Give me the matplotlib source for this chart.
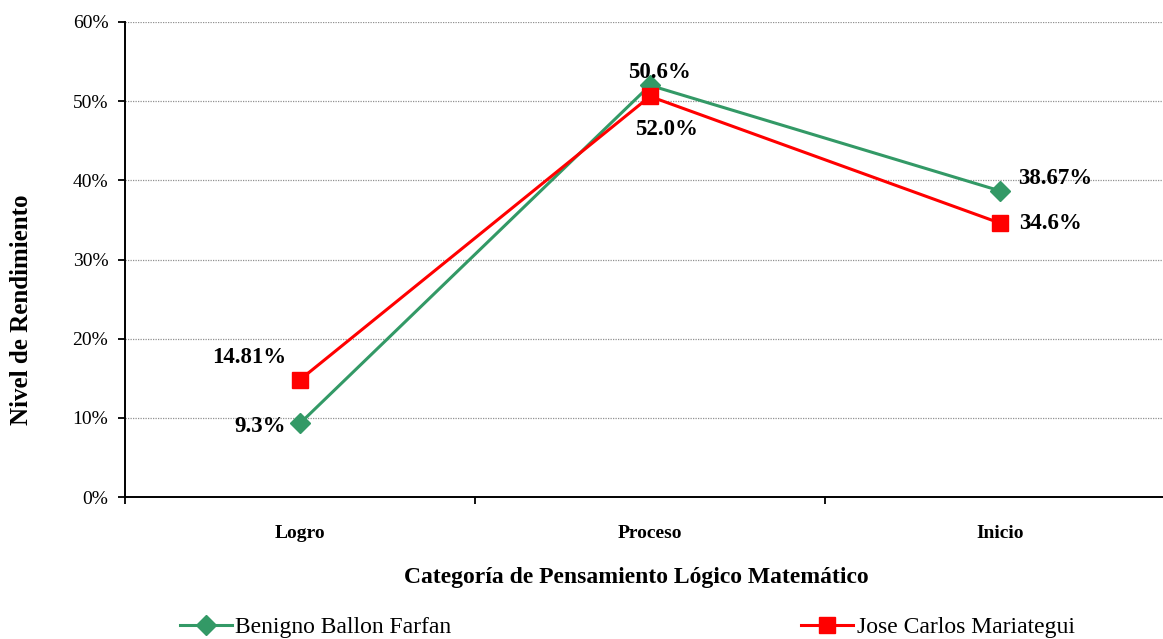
import matplotlib.pyplot as plt
from matplotlib.ticker import FixedLocator, PercentFormatter

plt.rcParams['font.family'] = ['Liberation Serif', 'DejaVu Serif']

# Data
categorias = ["Logro", "Proceso", "Inicio"]
benigno = [9.3, 52.0, 38.67]
mariategui = [14.81, 50.6, 34.6]
serie_benigno = "Benigno Ballon Farfan"
serie_mariategui = "Jose Carlos Mariategui"

# Label text for each point
labels_benigno = ["9.3%", "52.0%", "38.67%"]
labels_mariategui = ["14.81%", "50.6%", "34.6%"]

verde = "#339966"
rojo = "#FF0000"

fig = plt.figure(figsize=(11.63, 6.39), dpi=100)
ax = fig.add_axes([125 / 1163, 1 - 497 / 639, 1050 / 1163, 475 / 639])

x = list(range(len(categorias)))
ax.plot(x, benigno, color=verde, lw=2.2, marker="D", markersize=10,
        label=serie_benigno, zorder=3)
ax.plot(x, mariategui, color=rojo, lw=2.2, marker="s", markersize=11,
        label=serie_mariategui, zorder=4)

# data labels (offsets in points)
off_b = [(-10, -2, "right"), (12, -32, "center"), (13, 9, "left")]
off_m = [(-10, 16, "right"), (7, 17, "center"), (14, 0, "left")]
for i in x:
    dx, dy, ha = off_b[i]
    ax.annotate(labels_benigno[i], (i, benigno[i]), xytext=(dx, dy),
                textcoords="offset points", ha=ha, va="center",
                fontsize=16.5, fontweight="bold", zorder=5)
    dx, dy, ha = off_m[i]
    ax.annotate(labels_mariategui[i], (i, mariategui[i]), xytext=(dx, dy),
                textcoords="offset points", ha=ha, va="center",
                fontsize=16.5, fontweight="bold", zorder=5)

ax.set_xlim(-0.5, 2.5)
ax.set_ylim(0, 60)
ax.set_yticks(range(0, 61, 10))
ax.yaxis.set_major_formatter(PercentFormatter(decimals=0))
ax.grid(axis="y", color="#909090", linestyle=(0, (1, 1)), lw=0.9)
ax.set_axisbelow(True)

ax.set_xticks(x)
ax.set_xticklabels(categorias, fontweight="bold", fontsize=14)
ax.xaxis.set_minor_locator(FixedLocator([-0.5, 0.5, 1.5, 2.5]))
ax.tick_params(axis="x", which="major", length=0, pad=20)
ax.tick_params(axis="x", which="minor", length=5, width=1.3, direction="out")
ax.tick_params(axis="y", length=5, width=1.3, direction="out", labelsize=14, pad=7)

for s in ["top", "right"]:
    ax.spines[s].set_visible(False)
for s in ["left", "bottom"]:
    ax.spines[s].set_linewidth(1.4)

ax.set_ylabel("Nivel de Rendimiento", fontsize=18, fontweight="bold")
ax.yaxis.set_label_coords(-(125 - 22) / 1050, (497 - 310) / 475)
ax.set_xlabel("Categoría de Pensamiento Lógico Matemático", fontsize=17,
              fontweight="bold")
ax.xaxis.set_label_coords((636 - 125) / 1050, -(577 - 497) / 475)
ax.xaxis.label.set_va("center")
ax.yaxis.label.set_va("center")

fig.legend(loc="center left", bbox_to_anchor=(180 / 1163, 1 - 627 / 639),
           ncol=2, frameon=False, fontsize=17, columnspacing=14.8,
           handlelength=2.2, handletextpad=0.15, borderaxespad=0,
           borderpad=0)

plt.savefig("out.png", dpi=100)
